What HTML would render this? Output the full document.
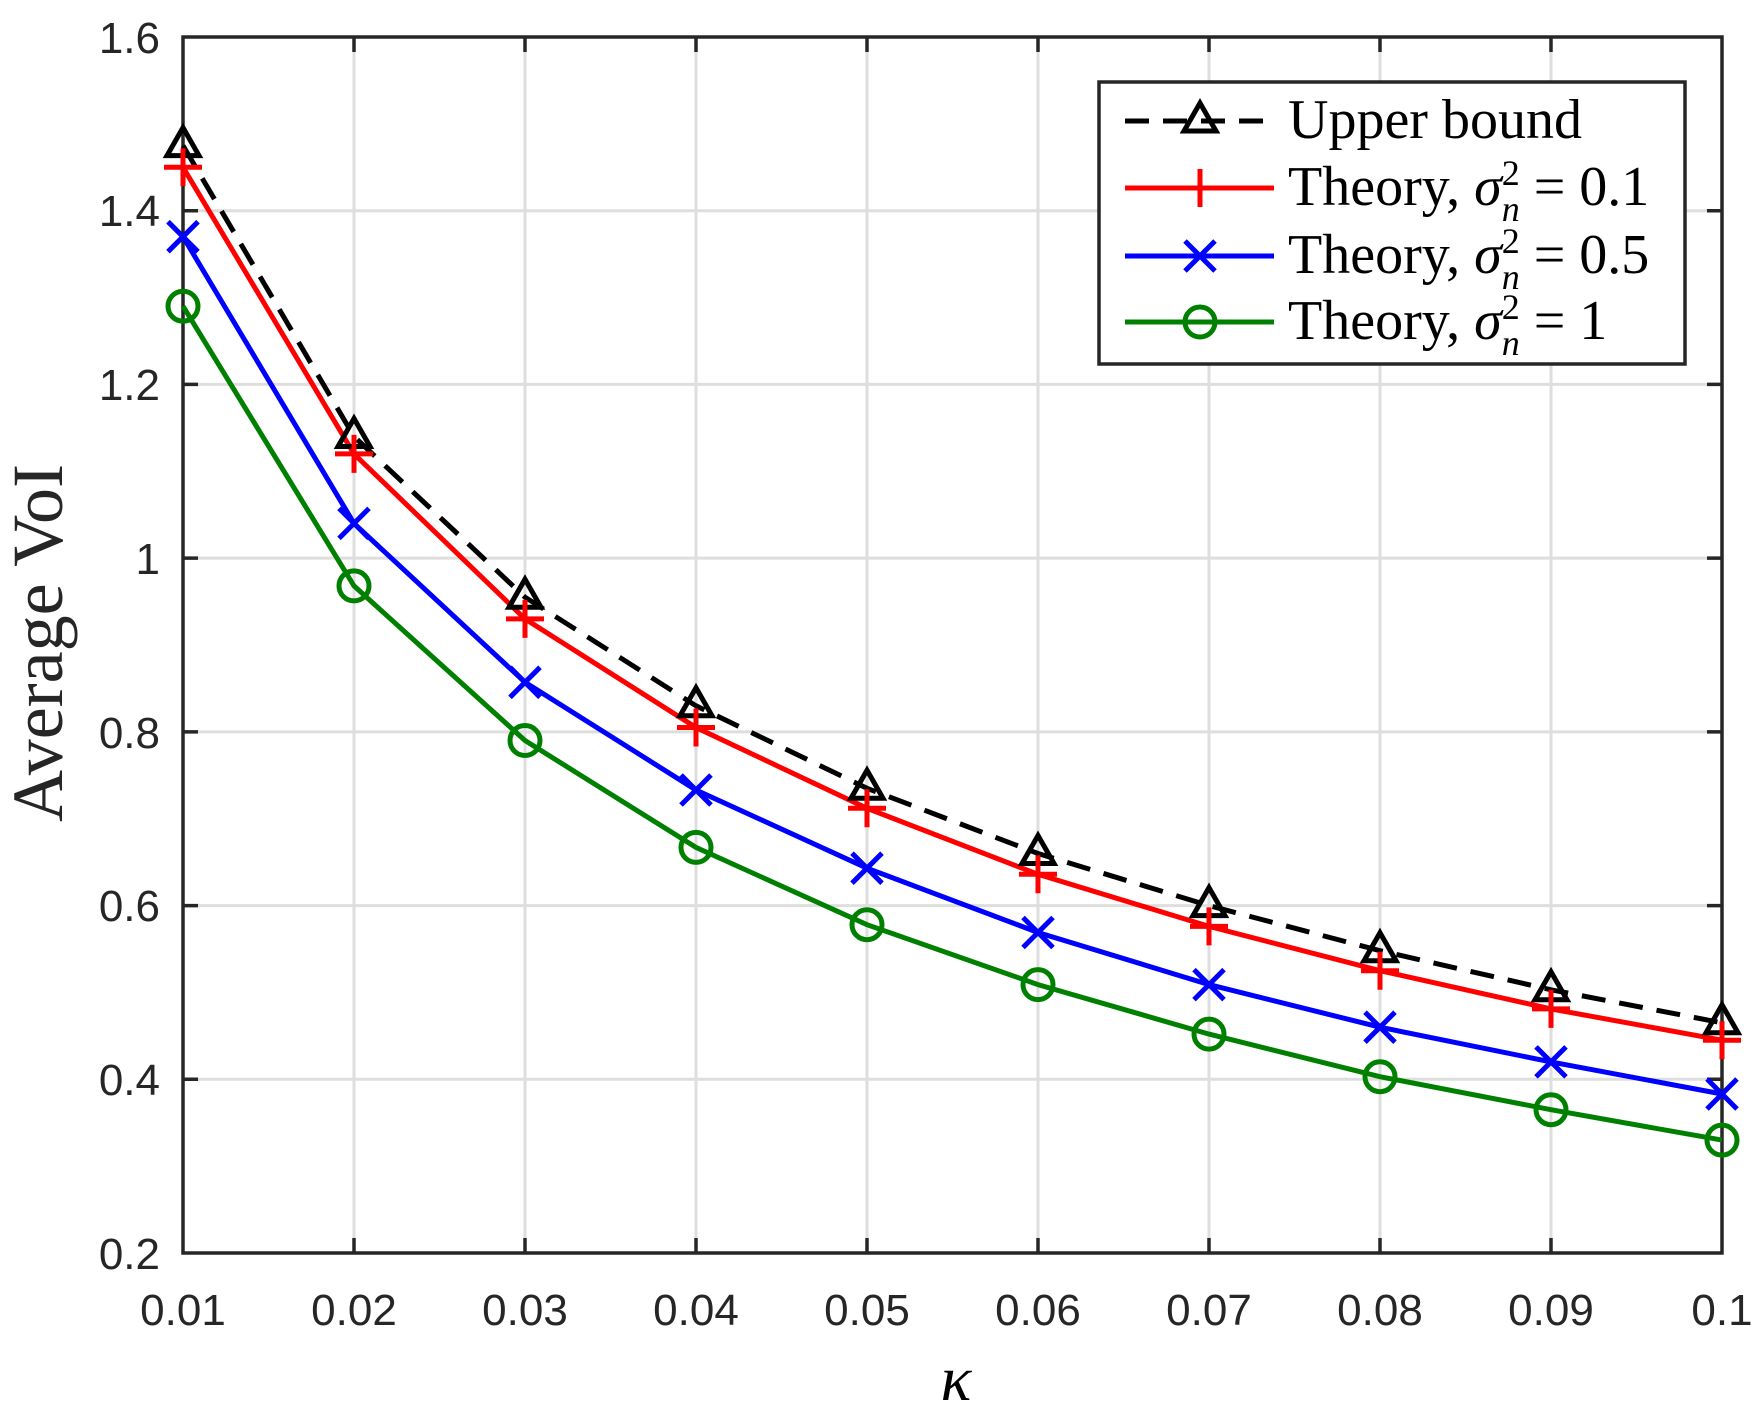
<!DOCTYPE html>
<html><head><meta charset="utf-8"><style>html,body{margin:0;padding:0;background:#fff}svg{display:block}</style></head>
<body>
<svg width="1759" height="1409" viewBox="0 0 1759 1409" xmlns="http://www.w3.org/2000/svg">
<defs>
<path id="tri" d="M0,-18 L16,10 L-16,10 Z" fill="none" stroke="#000" stroke-width="5"/>
<path id="plus" d="M-19,0 H19 M0,-19 V19" stroke="#f00" stroke-width="5" fill="none"/>
<path id="cross" d="M-15,-15 L15,15 M-15,15 L15,-15" stroke="#00f" stroke-width="5" fill="none"/>
<circle id="circ" r="15" fill="none" stroke="#008000" stroke-width="5"/>
</defs>
<g stroke="#dedede" stroke-width="3">
<line x1="354" y1="37" x2="354" y2="1253"/><line x1="525" y1="37" x2="525" y2="1253"/><line x1="696" y1="37" x2="696" y2="1253"/><line x1="867" y1="37" x2="867" y2="1253"/><line x1="1038" y1="37" x2="1038" y2="1253"/><line x1="1209" y1="37" x2="1209" y2="1253"/><line x1="1380" y1="37" x2="1380" y2="1253"/><line x1="1551" y1="37" x2="1551" y2="1253"/>
<line x1="183" y1="210.7" x2="1722" y2="210.7"/><line x1="183" y1="384.4" x2="1722" y2="384.4"/><line x1="183" y1="558.1" x2="1722" y2="558.1"/><line x1="183" y1="731.9" x2="1722" y2="731.9"/><line x1="183" y1="905.6" x2="1722" y2="905.6"/><line x1="183" y1="1079.3" x2="1722" y2="1079.3"/>
</g>
<g stroke="#262626" stroke-width="3.5">
<path d="M354,37v15M525,37v15M696,37v15M867,37v15M1038,37v15M1209,37v15M1380,37v15M1551,37v15 M354,1253v-15M525,1253v-15M696,1253v-15M867,1253v-15M1038,1253v-15M1209,1253v-15M1380,1253v-15M1551,1253v-15 M183,210.7h15M183,384.4h15M183,558.1h15M183,731.9h15M183,905.6h15M183,1079.3h15 M1722,210.7h-15M1722,384.4h-15M1722,558.1h-15M1722,731.9h-15M1722,905.6h-15M1722,1079.3h-15"/>
<rect x="183" y="37" width="1539" height="1216" fill="none"/>
</g>
<g font-family="Liberation Sans, sans-serif" font-size="44" fill="#262626" text-anchor="middle">
<text x="183" y="1325">0.01</text><text x="354" y="1325">0.02</text><text x="525" y="1325">0.03</text><text x="696" y="1325">0.04</text><text x="867" y="1325">0.05</text><text x="1038" y="1325">0.06</text><text x="1209" y="1325">0.07</text><text x="1380" y="1325">0.08</text><text x="1551" y="1325">0.09</text><text x="1722" y="1325">0.1</text>
<g text-anchor="end"><text x="160" y="53">1.6</text><text x="160" y="226">1.4</text><text x="160" y="400">1.2</text><text x="160" y="574">1</text><text x="160" y="748">0.8</text><text x="160" y="921">0.6</text><text x="160" y="1095">0.4</text><text x="160" y="1269">0.2</text></g>
</g>
<text x="956" y="1400" font-family="Liberation Serif, serif" font-style="italic" font-size="64" text-anchor="middle">κ</text>
<text transform="translate(62,643) rotate(-90)" font-family="Liberation Serif, serif" font-size="72" fill="#262626" text-anchor="middle">Average VoI</text>
<g fill="none" stroke-width="5">
<polyline stroke="#000" stroke-dasharray="24,14" points="183,145.6 354,436.5 525,597.2 696,705.8 867,788.3 1038,853.5 1209,905.6 1380,950.7 1551,989.8 1722,1022.8"/>
<polyline stroke="#f00" points="183,167.3 354,453.9 525,618.9 696,727.5 867,808.3 1038,874.3 1209,926.4 1380,970.7 1551,1008.9 1722,1040.2"/>
<polyline stroke="#00f" points="183,236.7 354,523.4 525,682.3 696,790 867,868.2 1038,932.5 1209,984.6 1380,1027.2 1551,1061.9 1722,1094"/>
<polyline stroke="#008000" points="183,306.2 354,585.9 525,740.5 696,847.4 867,924.7 1038,984.6 1209,1034.1 1380,1076.7 1551,1109.7 1722,1140.1"/>
</g>
<use href="#tri" x="183" y="145.6"/><use href="#tri" x="354" y="436.5"/><use href="#tri" x="525" y="597.2"/><use href="#tri" x="696" y="705.8"/><use href="#tri" x="867" y="788.3"/><use href="#tri" x="1038" y="853.5"/><use href="#tri" x="1209" y="905.6"/><use href="#tri" x="1380" y="950.7"/><use href="#tri" x="1551" y="989.8"/><use href="#tri" x="1722" y="1022.8"/>
<use href="#plus" x="183" y="167.3"/><use href="#plus" x="354" y="453.9"/><use href="#plus" x="525" y="618.9"/><use href="#plus" x="696" y="727.5"/><use href="#plus" x="867" y="808.3"/><use href="#plus" x="1038" y="874.3"/><use href="#plus" x="1209" y="926.4"/><use href="#plus" x="1380" y="970.7"/><use href="#plus" x="1551" y="1008.9"/><use href="#plus" x="1722" y="1040.2"/>
<use href="#cross" x="183" y="236.7"/><use href="#cross" x="354" y="523.4"/><use href="#cross" x="525" y="682.3"/><use href="#cross" x="696" y="790"/><use href="#cross" x="867" y="868.2"/><use href="#cross" x="1038" y="932.5"/><use href="#cross" x="1209" y="984.6"/><use href="#cross" x="1380" y="1027.2"/><use href="#cross" x="1551" y="1061.9"/><use href="#cross" x="1722" y="1094"/>
<use href="#circ" x="183" y="306.2"/><use href="#circ" x="354" y="585.9"/><use href="#circ" x="525" y="740.5"/><use href="#circ" x="696" y="847.4"/><use href="#circ" x="867" y="924.7"/><use href="#circ" x="1038" y="984.6"/><use href="#circ" x="1209" y="1034.1"/><use href="#circ" x="1380" y="1076.7"/><use href="#circ" x="1551" y="1109.7"/><use href="#circ" x="1722" y="1140.1"/>
<rect x="1099" y="82" width="586" height="282" fill="#fff" stroke="#262626" stroke-width="3.5"/>
<g stroke-width="5">
<line x1="1125" y1="121" x2="1274" y2="121" stroke="#000" stroke-dasharray="24,14"/>
<line x1="1125" y1="188" x2="1274" y2="188" stroke="#f00"/>
<line x1="1125" y1="256" x2="1274" y2="256" stroke="#00f"/>
<line x1="1125" y1="322" x2="1274" y2="322" stroke="#008000"/>
</g>
<use href="#tri" x="1200" y="121"/><use href="#plus" x="1200" y="188"/><use href="#cross" x="1200" y="256"/><use href="#circ" x="1200" y="322"/>
<g font-family="Liberation Serif, serif" font-size="56" fill="#000">
<text x="1288" y="138">Upper bound</text>
<text x="1288" y="205">Theory, <tspan font-style="italic">σ</tspan><tspan font-size="36" dy="-20">2</tspan><tspan font-size="36" font-style="italic" dx="-18" dy="36">n</tspan><tspan dy="-16"> = 0.1</tspan></text>
<text x="1288" y="273">Theory, <tspan font-style="italic">σ</tspan><tspan font-size="36" dy="-20">2</tspan><tspan font-size="36" font-style="italic" dx="-18" dy="36">n</tspan><tspan dy="-16"> = 0.5</tspan></text>
<text x="1288" y="339">Theory, <tspan font-style="italic">σ</tspan><tspan font-size="36" dy="-20">2</tspan><tspan font-size="36" font-style="italic" dx="-18" dy="36">n</tspan><tspan dy="-16"> = 1</tspan></text>
</g>
</svg>
</body></html>
